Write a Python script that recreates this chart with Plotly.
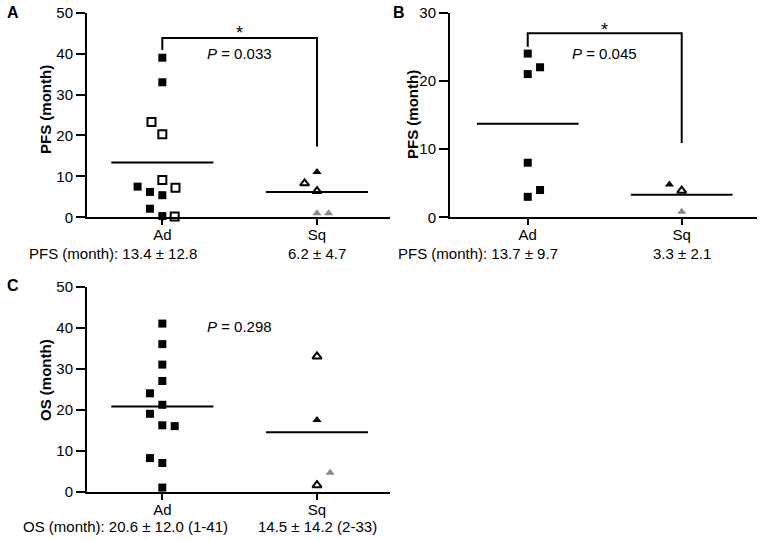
import plotly.graph_objects as go

W, H = 763, 540
FONT = "Liberation Sans, Arial, sans-serif"

groups = ["Ad", "Sq"]

# ---- Panel A: PFS (month) ----
a_ad_filled = [39, 33, 7.5, 6.2, 5.4, 2.1, 0.3]
a_ad_filled_jit = [0, 0, -0.16, -0.08, 0, -0.08, 0]
a_ad_open = [23.3, 20.3, 9.1, 7.2, 0.2]
a_ad_open_jit = [-0.07, 0, 0, 0.085, 0.08]
a_sq_filled = [11.1]
a_sq_filled_jit = [0]
a_sq_open = [8.3, 6.4]
a_sq_open_jit = [-0.08, 0]
a_sq_gray = [1.0, 1.0]
a_sq_gray_jit = [0, 0.075]
a_means = [13.4, 6.2]
a_stats = ["PFS (month): 13.4 ± 12.8", "6.2 ± 4.7"]
a_p = "<i>P</i> = 0.033"

# ---- Panel B: PFS (month) ----
b_ad_filled = [24, 21, 22, 8, 4, 3]
b_ad_filled_jit = [0, 0, 0.08, 0, 0.08, 0]
b_sq_filled = [4.8]
b_sq_filled_jit = [-0.08]
b_sq_open = [3.9]
b_sq_open_jit = [0]
b_sq_gray = [0.8]
b_sq_gray_jit = [0]
b_means = [13.7, 3.3]
b_stats = ["PFS (month): 13.7 ± 9.7", "3.3 ± 2.1"]
b_p = "<i>P</i> = 0.045"

# ---- Panel C: OS (month) ----
c_ad_filled = [41, 36, 31, 27, 24, 21.2, 19, 16.2, 16, 8.2, 7, 1]
c_ad_filled_jit = [0, 0, 0, 0, -0.08, 0, -0.08, 0, 0.08, -0.08, 0, 0]
c_sq_filled = [17.5]
c_sq_filled_jit = [0]
c_sq_open = [33, 1.6]
c_sq_open_jit = [0, 0]
c_sq_gray = [4.6]
c_sq_gray_jit = [0.085]
c_means = [20.8, 14.5]
c_stats = ["OS (month): 20.6 ± 12.0 (1-41)", "14.5 ± 14.2 (2-33)"]
c_p = "<i>P</i> = 0.298"

GRAY = "#8a8a8a"
fig = go.Figure()


def pts(vals, jit, gi, sym, color, xa, ya, size=8, lw=0):
    fig.add_trace(go.Scatter(
        x=[gi + j for j in jit], y=vals, mode="markers", xaxis=xa, yaxis=ya,
        cliponaxis=False, showlegend=False, hoverinfo="skip",
        marker=dict(symbol=sym, size=size, color=color,
                    line=dict(width=lw, color=color))))


def mean_line(m, gi, xa, ya, half=0.33):
    fig.add_trace(go.Scatter(
        x=[gi - half, gi + half], y=[m, m], mode="lines", xaxis=xa, yaxis=ya,
        cliponaxis=False, showlegend=False, hoverinfo="skip",
        line=dict(color="black", width=2)))


def bracket(y_left, y_top, y_right, xa, ya):
    fig.add_trace(go.Scatter(
        x=[0, 0, 1, 1], y=[y_left, y_top, y_top, y_right], mode="lines",
        xaxis=xa, yaxis=ya, cliponaxis=False, showlegend=False,
        hoverinfo="skip", line=dict(color="black", width=2)))


# Panel A
pts(a_ad_filled, a_ad_filled_jit, 0, "square", "black", "x", "y")
pts(a_ad_open, a_ad_open_jit, 0, "square-open", "black", "x", "y", size=8, lw=2)
pts(a_sq_filled, a_sq_filled_jit, 1, "triangle-up", "black", "x", "y", size=8)
pts(a_sq_open, a_sq_open_jit, 1, "triangle-up-open", "black", "x", "y", size=8, lw=2)
pts(a_sq_gray, a_sq_gray_jit, 1, "triangle-up", GRAY, "x", "y", size=8)
mean_line(a_means[0], 0, "x", "y")
mean_line(a_means[1], 1, "x", "y")
bracket(40.9, 43.8, 17.3, "x", "y")

# Panel B
pts(b_ad_filled, b_ad_filled_jit, 0, "square", "black", "x2", "y2")
pts(b_sq_filled, b_sq_filled_jit, 1, "triangle-up", "black", "x2", "y2", size=8)
pts(b_sq_open, b_sq_open_jit, 1, "triangle-up-open", "black", "x2", "y2", size=8, lw=2)
pts(b_sq_gray, b_sq_gray_jit, 1, "triangle-up", GRAY, "x2", "y2", size=8)
mean_line(b_means[0], 0, "x2", "y2")
mean_line(b_means[1], 1, "x2", "y2")
bracket(25.0, 27.0, 10.9, "x2", "y2")

# Panel C
pts(c_ad_filled, c_ad_filled_jit, 0, "square", "black", "x3", "y3")
pts(c_sq_filled, c_sq_filled_jit, 1, "triangle-up", "black", "x3", "y3", size=8)
pts(c_sq_open, c_sq_open_jit, 1, "triangle-up-open", "black", "x3", "y3", size=8, lw=2)
pts(c_sq_gray, c_sq_gray_jit, 1, "triangle-up", GRAY, "x3", "y3", size=8)
mean_line(c_means[0], 0, "x3", "y3")
mean_line(c_means[1], 1, "x3", "y3")


def px_x(p):
    return p / W


def px_y(p):
    return 1 - p / H


tickfont = dict(family=FONT, size=15, color="black")
common_x = dict(tickvals=[0, 1], ticktext=groups, showline=True, linewidth=2,
                linecolor="black", ticks="outside", ticklen=6, tickwidth=2,
                tickcolor="black", showgrid=False, zeroline=False,
                tickfont=tickfont, fixedrange=True, automargin=False,
                ticklabeloverflow="allow", ticklabelstandoff=-3)
common_y = dict(showline=True, linewidth=2, linecolor="black", ticks="outside",
                ticklen=9, tickwidth=2, tickcolor="black", showgrid=False,
                zeroline=False, tickfont=tickfont, fixedrange=True, automargin=False,
                ticklabeloverflow="allow")

fig.update_layout(
    width=W, height=H, margin=dict(l=0, r=0, t=0, b=0, pad=0, autoexpand=False),
    paper_bgcolor="white", plot_bgcolor="white",
    font=dict(family=FONT, color="black"),
    xaxis=dict(domain=[px_x(87), px_x(390)], range=[-0.487, 1.472], anchor="y", **common_x),
    yaxis=dict(domain=[px_y(217.3), px_y(12.7)], range=[0, 50], tickvals=[0, 10, 20, 30, 40, 50],
               anchor="x", **common_y),
    xaxis2=dict(domain=[px_x(450), px_x(757)], range=[-0.505, 1.489], anchor="y2", **common_x),
    yaxis2=dict(domain=[px_y(217.3), px_y(12.7)], range=[0, 30], tickvals=[0, 10, 20, 30],
                anchor="x2", **common_y),
    xaxis3=dict(domain=[px_x(87), px_x(390)], range=[-0.487, 1.472], anchor="y3", **common_x),
    yaxis3=dict(domain=[px_y(491.7), px_y(286.7)], range=[0, 50], tickvals=[0, 10, 20, 30, 40, 50],
                anchor="x3", **common_y),
)

ann = []
f15 = dict(family=FONT, size=15, color="black")

# panel letters
for txt, x, y in [("A", 13, 13), ("B", 399, 13), ("C", 13, 285)]:
    ann.append(dict(text=f"<b>{txt}</b>", x=px_x(x), y=px_y(y), xref="paper", yref="paper",
                    showarrow=False, xanchor="center", yanchor="middle",
                    font=dict(family=FONT, size=16, color="black")))

# y titles
for txt, x, y in [("PFS (month)", 45, 110), ("PFS (month)", 412, 114), ("OS (month)", 45, 380)]:
    ann.append(dict(text=f"<b>{txt}</b>", x=px_x(x), y=px_y(y), xref="paper", yref="paper",
                    showarrow=False, textangle=-90, xanchor="center", yanchor="middle",
                    font=dict(family=FONT, size=15, color="black")))

# stats lines
for stats, xa, yp, shift in [(a_stats, "x", 253, 37), (b_stats, "x2", 253, 32), (c_stats, "x3", 526.5, 68)]:
    ann.append(dict(text=stats[0], x=0, xref=xa, y=px_y(yp), yref="paper", showarrow=False,
                    xanchor="right", yanchor="middle", xshift=shift, font=f15))
    ann.append(dict(text=stats[1], x=1, xref=xa, y=px_y(yp), yref="paper", showarrow=False,
                    xanchor="center", yanchor="middle", font=f15))

# P values and stars
fstar = dict(family=FONT, size=18, color="black")
ann.append(dict(text=a_p, x=0.5, xref="x", y=40, yref="y", showarrow=False, font=f15))
ann.append(dict(text="*", x=0.5, xref="x", y=45.1, yref="y", showarrow=False, font=fstar))
ann.append(dict(text=b_p, x=0.5, xref="x2", y=24, yref="y2", showarrow=False, font=f15))
ann.append(dict(text="*", x=0.5, xref="x2", y=27.5, yref="y2", showarrow=False, font=fstar))
ann.append(dict(text=c_p, x=0.5, xref="x3", y=40.2, yref="y3", showarrow=False, font=f15))

fig.update_layout(annotations=ann)
# remove the default page margin so the figure sits at the window's top-left corner
fig.write_html("out.html", config={"displayModeBar": False},
               post_script="document.body.style.margin='0';")
